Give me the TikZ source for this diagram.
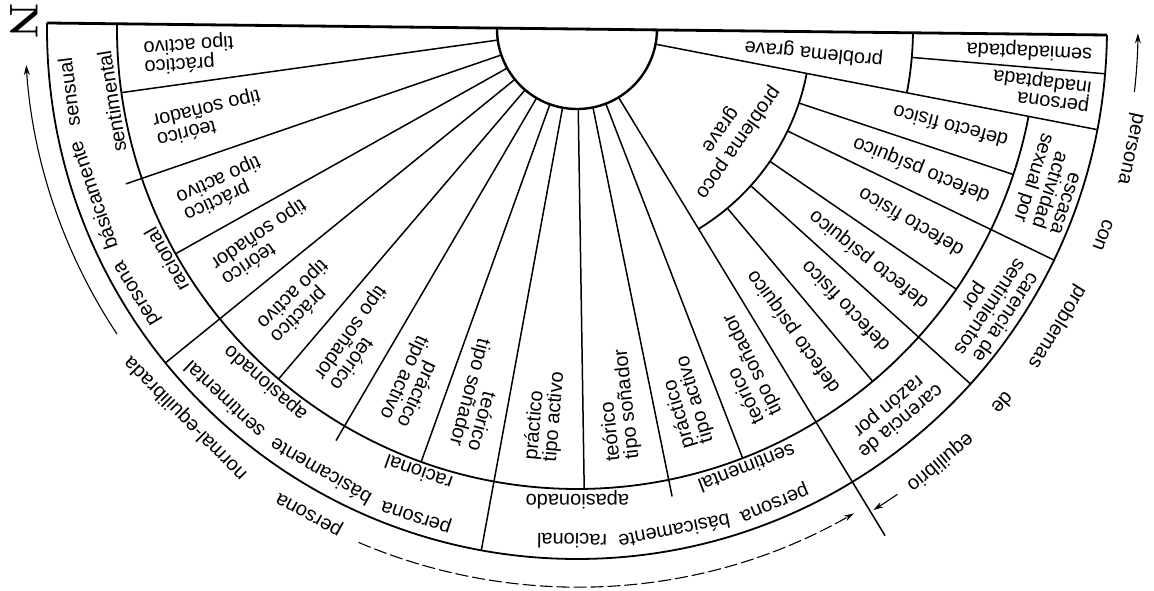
\documentclass[tikz,border=0pt]{standalone}
\usepackage{fontspec}
\newfontfamily\dfont{Liberation Sans}
\usetikzlibrary{arrows.meta}
\begin{document}
\begin{tikzpicture}[x=1pt,y=1pt,
  ray/.style={line width=1.5pt},
  ring/.style={line width=1.8pt},
  txt/.style={font=\dfont\fontsize{20}{19}\selectfont, inner sep=0pt},
  outread/.style={txt, rotate=#1, anchor=east, align=right},
  inread/.style={txt, rotate=#1-180, anchor=west, align=left},
  tang/.style={txt, rotate=#1-90, align=center},
  arr/.style={line width=1.1pt, -{Stealth[length=10pt,width=6pt]}}
]
\useasboundingbox (-577,-562) rectangle (577,29);
\node[font=\fontsize{40}{40}\selectfont\bfseries, rotate=-90, inner sep=0pt] (N) at (-553,8) {N};
\begin{scope}[rotate=-0.65, transform shape]
% rings
\draw[ring] (180:530) arc[start angle=180, end angle=360, radius=530];
\draw[ring] (180:460) arc[start angle=180, end angle=349.7, radius=460];
\draw[ring] (301.95:234) arc[start angle=301.95, end angle=349.7, radius=234];
\draw[ring] (349.7:336) arc[start angle=349.7, end angle=360, radius=336];
\draw[line width=2.4pt] (180:80) arc[start angle=180, end angle=360, radius=80];
\draw[line width=2.8pt] (180:530) -- (0:530);
% rays of the left group
\foreach \a in {188.6,209.9,230.2,250.85,271.55,291.75} \draw[ray] (\a:80) -- (\a:460);
\foreach \a in {199.6,240.3,282.15} \draw[ray] (\a:80) -- (\a:477);
\foreach \a in {219.7,260.25} \draw[ray] (\a:80) -- (\a:530);
\draw[ray] (301.95:80) -- (301.95:593);
% rays of the right group
\foreach \a in {310.65,326.2,342.2} \draw[ray] (\a:234) -- (\a:460);
\foreach \a in {318.6,334.8} \draw[ray] (\a:234) -- (\a:530);
\draw[ray] (349.7:80) -- (349.7:530);
\draw[ray] (355.8:336) -- (355.8:530);
% left cells
\node[outread=184.3] (c1) at (184.3:434) {práctico\\tipo activo};
\node[outread=194.1] (c2) at (194.1:434) {teórico\\tipo soñador};
\node[outread=204.75] (c3) at (204.75:434) {práctico\\tipo activo};
\node[outread=214.8] (c4) at (214.8:434) {teórico\\tipo soñador};
\node[outread=224.95] (c5) at (224.95:434) {práctico\\tipo activo};
\node[outread=235.25] (c6) at (235.25:434) {teórico\\tipo soñador};
\node[outread=245.575] (c7) at (245.575:434) {práctico\\tipo activo};
\node[outread=255.55] (c8) at (255.55:434) {teórico\\tipo soñador};
\node[inread=265.9] (c9) at (265.9:434) {práctico\\tipo activo};
\node[inread=276.85] (c10) at (276.85:434) {teórico\\tipo soñador};
\node[inread=286.95] (c11) at (286.95:434) {práctico\\tipo activo};
\node[inread=296.85] (c12) at (296.85:434) {teórico\\tipo soñador};
% inner sub-band
\node[tang=189.5] (s1) at (189.5:471) {sentimental};
\node[tang=210] (s2) at (210:471) {racional};
\node[tang=229.3] (s3) at (229.3:471) {apasionado};
\node[tang=251] (s4) at (251:471) {racional};
\node[tang=270.7] (s5) at (270.7:471) {apasionado};
\node[tang=291.8] (s6) at (291.8:471) {sentimental};
% outer sub-band
\node[tang=211.65] (p1a) at (211.65:512) {persona};
\node[tang=199.63] (p1b) at (199.63:512) {básicamente};
\node[tang=187.78] (p1c) at (187.78:512) {sensual};
\node[tang=252.4] (p2a) at (252.4:512) {persona};
\node[tang=240.57] (p2b) at (240.57:512) {básicamente};
\node[tang=227.07] (p2c) at (227.07:512) {sentimental};
\node[tang=293.25] (p3a) at (293.25:512) {persona};
\node[tang=281.62] (p3b) at (281.62:512) {básicamente};
\node[tang=270.1] (p3c) at (270.1:512) {racional};
% right group cells
\node[txt, rotate=174.85] (pg) at (354.85:238) {problema grave};
\node[inread=357.9] (sa) at (357.9:516) {semiadaptada};
\node[inread=353.3] (pi) at (353.3:518) {persona\\inadaptada};
\node[inread=345.95] (d1) at (345.95:445) {defecto físico};
\node[inread=338.5] (d2) at (338.5:445) {defecto psíquico};
\node[inread=330.5] (d3) at (330.5:445) {defecto físico};
\node[inread=322.4] (d4) at (322.4:445) {defecto psíquico};
\node[inread=314.6] (d5) at (314.6:445) {defecto físico};
\node[inread=306.3] (d6) at (306.3:445) {defecto psíquico};
\node[tang=325.5, font=\dfont\fontsize{20}{22}\selectfont] (ppg) at (325.5:186) {problema poco\\grave};
\node[tang=342.6, align=right] (ea) at (342.6:497) {escasa\\actividad\\sexual por};
\node[tang=326.7] (cs) at (326.7:497) {carencia de\\sentimientos\\por};
\node[tang=310.2] (cr) at (310.2:498) {carencia de\\razón por};
% outside, left
\draw[arr] (214.2:552) arc[start angle=214.2, end angle=184.4, radius=552];
\node[tang=225.5] (ne) at (225.5:552) {normal-equilibrada};
\node[tang=241.75] (pn) at (241.75:553) {persona};
\draw[arr, dash pattern=on 13pt off 4pt] (247.6:558) arc[start angle=247.6, end angle=300.4, radius=558];
% outside, right
\draw[arr] (354.2:561) arc[start angle=354.2, end angle=360.2, radius=561];
\node[tang=348.45] (q1) at (348.45:565) {persona};
\node[tang=339.25] (q2) at (339.25:565) {con};
\node[tang=328.85] (q3) at (328.85:565) {problemas};
\node[tang=319.35] (q4) at (319.35:567) {de};
\node[tang=310.65] (q5) at (310.65:565) {equilibrio};
\draw[arr] (305.2:565) arc[start angle=305.2, end angle=302.3, radius=565];
\end{scope}
\end{tikzpicture}
\end{document}
